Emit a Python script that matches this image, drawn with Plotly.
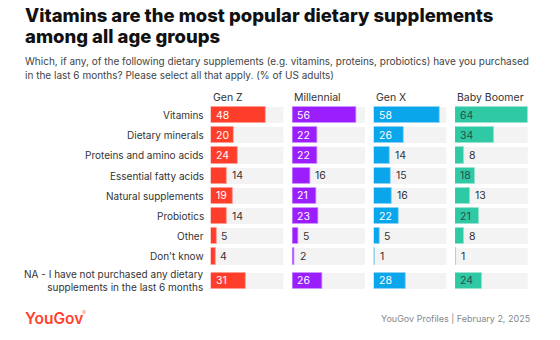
import plotly.graph_objects as go

# Survey data (% of US adults)
categories = [
    "Vitamins",
    "Dietary minerals",
    "Proteins and amino acids",
    "Essential fatty acids",
    "Natural supplements",
    "Probiotics",
    "Other",
    "Don't know",
    "NA - I have not purchased any dietary<br>supplements in the last 6 months",
]
groups = ["Gen Z", "Millennial", "Gen X", "Baby Boomer"]
gen_z = [48, 20, 24, 14, 19, 14, 5, 4, 31]
millennial = [56, 22, 22, 16, 21, 23, 5, 2, 26]
gen_x = [58, 26, 14, 15, 16, 22, 5, 1, 28]
baby_boomer = [64, 34, 8, 18, 13, 21, 8, 1, 24]
series = [gen_z, millennial, gen_x, baby_boomer]

colors = ["#ff3d2b", "#9b1eff", "#0aa6eb", "#30c9a6"]
edge_colors = ["#ff9a8f", "#cf97ff", "#8fd2f5", "#9ae3d1"]
inside_text = ["#ffffff", "#ffffff", "#ffffff", "#2d4f47"]

W, H = 560, 340
XMAX = 64
FONT = "Inter"
TEXT = "#333333"

# row positions: uniform pitch, small extra gap before the two-line last row
pos = [i + (0.2 if i == len(categories) - 1 else 0) for i in range(len(categories))]

# panel horizontal extents in pixels
panel_left = [210.7, 292.3, 373.7, 455.0]
panel_w = 72.7


def px(x):
    return x / W


def py(y):
    return 1 - y / H


fig = go.Figure()
annotations = []

for k, (name, vals) in enumerate(zip(groups, series)):
    xa = "x" if k == 0 else f"x{k + 1}"
    # grey track
    fig.add_trace(go.Bar(
        x=[XMAX] * len(vals), y=pos, orientation="h", xaxis=xa, yaxis="y",
        marker=dict(color="#f3f3f3", line=dict(width=0)), width=0.8,
        hoverinfo="skip", showlegend=False,
    ))
    # values
    fig.add_trace(go.Bar(
        x=vals, y=pos, orientation="h", xaxis=xa, yaxis="y",
        marker=dict(color=colors[k], line=dict(color=edge_colors[k], width=0.8)),
        width=0.8, showlegend=False, name=name,
    ))
    for v, p in zip(vals, pos):
        inside = v >= 17
        annotations.append(dict(
            x=0 if inside else v, y=p, xref=xa, yref="y",
            text=str(v), showarrow=False, xanchor="left", yanchor="middle",
            xshift=3,
            font=dict(family=FONT, size=10.5,
                      color=inside_text[k] if inside else TEXT),
        ))
    # group header
    annotations.append(dict(
        x=px(panel_left[k]), y=py(97), xref="paper", yref="paper",
        text=name, showarrow=False, xanchor="left", yanchor="middle",
        font=dict(family=FONT, size=10.5, color=TEXT),
    ))

# category labels
for c, p in zip(categories, pos):
    annotations.append(dict(
        x=px(206), y=p, xref="paper", yref="y", text=c, showarrow=False,
        xanchor="right", yanchor="middle", align="right",
        font=dict(family=FONT, size=10, color=TEXT),
    ))

# title and subtitle
title_lines = ["Vitamins are the most popular dietary supplements",
               "among all age groups"]
for i, t in enumerate(title_lines):
    annotations.append(dict(
        x=px(23), y=py(15.5 + 20.5 * i), xref="paper", yref="paper",
        text=t, showarrow=False, xanchor="left", yanchor="middle",
        font=dict(family=FONT, size=18.5, color="#111111", weight=800),
    ))
sub_lines = ["Which, if any, of the following dietary supplements (e.g. vitamins, "
             "proteins, probiotics) have you purchased",
             "in the last 6 months? Please select all that apply. (% of US adults)"]
for i, t in enumerate(sub_lines):
    annotations.append(dict(
        x=px(23), y=py(61 + 13.5 * i), xref="paper", yref="paper",
        text=t, showarrow=False, xanchor="left", yanchor="middle",
        font=dict(family=FONT, size=10, color="#444444"),
    ))

# footer: logo, registered mark, source
annotations.append(dict(
    x=px(23), y=py(318), xref="paper", yref="paper",
    text="YouGov", showarrow=False, xanchor="left", yanchor="middle",
    font=dict(family=FONT, size=15.5, color="#ff412c", weight=600),
))
annotations.append(dict(
    x=px(80), y=py(312), xref="paper", yref="paper",
    text="®", showarrow=False, xanchor="left", yanchor="middle",
    font=dict(family=FONT, size=6, color="#ff8a7c"),
))
annotations.append(dict(
    x=px(532), y=py(318), xref="paper", yref="paper",
    text="YouGov Profiles | February 2, 2025", showarrow=False,
    xanchor="right", yanchor="middle",
    font=dict(family=FONT, size=9, color="#888888"),
))

# y range in row units: Vitamins centre at 115 px, pitch 20.2 px
pitch = 20.2
y_top_px, y_bot_px = 115 - 0.5 * pitch, 115 + 8.7 * pitch

layout = dict(
    width=W, height=H, margin=dict(l=0, r=0, t=0, b=0),
    paper_bgcolor="white", plot_bgcolor="white",
    barmode="overlay", bargap=0, annotations=annotations,
    yaxis=dict(range=[8.7, -0.5], domain=[py(y_bot_px), py(y_top_px)],
               visible=False, fixedrange=True),
    font=dict(family=FONT),
)
for k in range(4):
    key = "xaxis" if k == 0 else f"xaxis{k + 1}"
    layout[key] = dict(
        range=[0, XMAX], visible=False, fixedrange=True,
        domain=[px(panel_left[k]), px(panel_left[k] + panel_w)], anchor="y",
    )
fig.update_layout(**layout)

fig.write_html("out.html", config={"displayModeBar": False})
